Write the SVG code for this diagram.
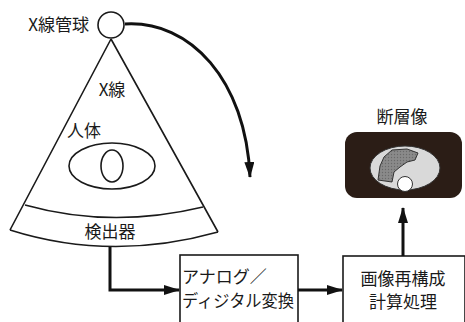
<svg xmlns="http://www.w3.org/2000/svg" width="465" height="322" viewBox="0 0 465 322">
  <defs>
    <style>
      text { font-family: "Noto Sans CJK JP", "Noto Sans", sans-serif; fill: #1a1a1a; }
      .lbl { font-size: 17px; }
      .line { fill: none; stroke: #1a1a1a; stroke-width: 1.6; }
      .conn { fill: none; stroke: #111; stroke-width: 3; }
      .box { fill: #fff; stroke: #1a1a1a; stroke-width: 1.6; }
    </style>
    <marker id="head" viewBox="0 0 16 10" refX="15" refY="5" markerWidth="16" markerHeight="10" markerUnits="userSpaceOnUse" orient="auto">
      <path d="M0,0 L16,5 L0,10 Z" fill="#111"/>
    </marker>
    <pattern id="hatch" width="3" height="3" patternUnits="userSpaceOnUse">
      <rect width="3" height="3" fill="#8a8a8a"/>
      <circle cx="1.5" cy="1.5" r="0.7" fill="#6a6a6a"/>
    </pattern>
  </defs>

  <!-- X-ray tube -->
  <g id="tube">
    <text class="lbl" x="89" y="31" text-anchor="end">X線管球</text>
    <circle cx="111" cy="25" r="13" fill="#fff" stroke="#1a1a1a" stroke-width="1.6"/>
  </g>

  <!-- X-ray fan beam with patient and detector band -->
  <g id="beam">
    <path class="line" d="M111,39 L10,230 M111,39 L218,232"/>
    <text class="lbl" x="112" y="96" text-anchor="middle">X線</text>
  </g>

  <g id="body">
    <text class="lbl" x="84" y="137" text-anchor="middle">人体</text>
    <ellipse class="line" cx="112" cy="166" rx="43" ry="23"/>
    <ellipse class="line" cx="112" cy="166" rx="11" ry="16"/>
  </g>

  <g id="detector">
    <path class="line" d="M25,205 Q111,229 203,207"/>
    <path class="line" d="M10,230 Q111,262 218,232"/>
    <text class="lbl" x="110" y="238" text-anchor="middle" font-size="18">検出器</text>
  </g>

  <!-- A/D converter -->
  <g id="adc">
    <rect class="box" x="180" y="255" width="118" height="70"/>
    <text class="lbl" x="182" y="283">アナログ／</text>
    <text class="lbl" x="182" y="307" textLength="112" lengthAdjust="spacingAndGlyphs">ディジタル変換</text>
  </g>

  <!-- Reconstruction computation -->
  <g id="recon">
    <rect class="box" x="343" y="256" width="122" height="70"/>
    <text class="lbl" x="403" y="285" text-anchor="middle" font-size="18">画像再構成</text>
    <text class="lbl" x="403" y="308" text-anchor="middle" font-size="18">計算処理</text>
  </g>

  <!-- Tomographic image -->
  <g id="tomogram">
    <text class="lbl" x="402" y="123" text-anchor="middle" font-size="18">断層像</text>
    <rect x="345" y="132" width="117" height="66" rx="12" fill="#2b1d16"/>
    <ellipse cx="405" cy="168" rx="35" ry="22" fill="#d9d9d9" stroke="#333" stroke-width="1"/>
    <path d="M378,180 L380,166 L384,157 L392,150 L407,149 L418,153 L415,160 L407,162 L400,167 L394,172 L392,182 Z" fill="url(#hatch)" stroke="#333" stroke-width="1"/>
    <circle cx="405" cy="184" r="7.5" fill="#fff" stroke="#333" stroke-width="1"/>
  </g>

  <!-- Connectors -->
  <g id="connectors">
    <path class="conn" d="M125,24 C190,20 246,80 250,177" marker-end="url(#head)"/>
    <path class="conn" d="M110,247 L110,290 L179,290" marker-end="url(#head)"/>
    <path class="conn" d="M298,290 L342,290" marker-end="url(#head)"/>
    <path class="conn" d="M403,256 L403,208" marker-end="url(#head)"/>
  </g>
</svg>
